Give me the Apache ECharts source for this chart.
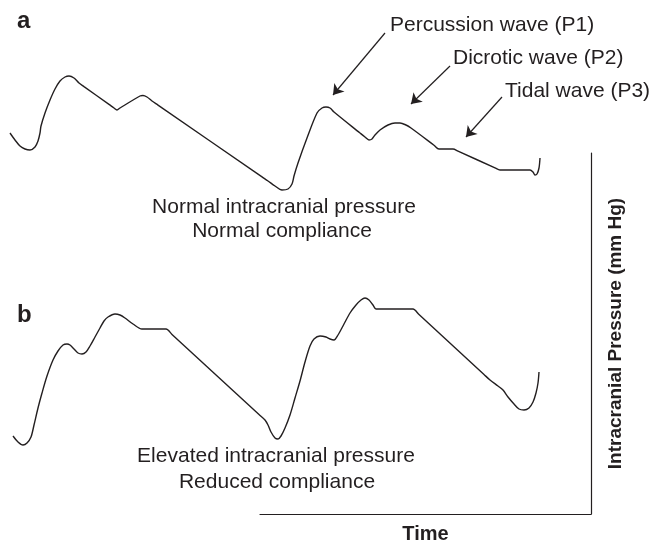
<!DOCTYPE html>
<html>
<head>
<meta charset="utf-8">
<script src="https://cdn.jsdelivr.net/npm/echarts@6/dist/echarts.min.js"></script>
<style>
  html, body { margin: 0; padding: 0; background: #fff; }
  #chart { width: 654px; height: 549px; }
</style>
</head>
<body>
<div id="chart"></div>
<script>
// panel a: normal ICP waveform  [time, pressure] (schematic units)
const timeA = [10, 15, 20, 25, 30, 35, 38, 40, 41, 45, 50, 55, 60, 65, 69, 74, 79, 84, 109, 114, 117, 120, 140, 143, 147, 152, 158, 262, 268, 275, 282, 288, 292, 294, 298, 307, 317, 322, 326, 330, 334, 360, 365, 369, 372, 375, 380, 388, 395, 400, 406, 411, 434, 439, 453, 458, 495, 500, 506, 525, 530, 533, 535, 537, 539, 540];
const pressA = [67, 60, 54, 51, 50, 53, 59, 67, 74, 87, 100, 111, 119, 123, 124, 122, 117, 113.4, 95.6, 92, 90, 92, 104, 104.5, 103, 99, 94.9, 23.1, 19, 14, 10, 11, 16, 24, 37, 62, 87, 92, 93, 92, 88, 67, 63, 60, 61, 65, 70, 75, 77, 77, 75, 72, 54.8, 51, 51, 48.8, 32.2, 30, 30, 30, 30, 28, 25, 26, 32, 42];

// panel b: elevated ICP waveform
const timeB = [13, 18, 23, 27, 31, 34, 38, 42, 47, 53, 58, 63, 67, 70, 74, 78, 82, 86, 90, 95, 100, 104, 108, 115, 120, 125, 133, 142, 166, 172, 259, 265, 268, 271, 275, 278, 281, 285, 290, 295, 300, 305, 310, 314, 320, 326, 330, 334, 338, 344, 350, 356, 361, 365, 369, 373, 376, 381, 408, 413, 419, 484, 490, 498, 503, 508, 514, 519, 524, 529, 533, 536, 538, 539];
const pressB = [14, 8, 5, 7, 13, 25, 42, 57, 74, 90, 99, 105, 106, 105, 101, 97, 96, 98, 104, 113, 122, 129, 133, 136, 135, 132, 126, 121, 121, 115.5, 35.5, 30, 25, 18, 12, 11, 14, 22, 35, 52, 69, 88, 104, 111, 114, 113, 111, 110, 115, 126, 137, 145, 150, 152, 150, 145, 141, 141, 141, 141, 135.5, 75.5, 70, 64, 60, 53, 46, 41, 40, 42, 48, 57, 67, 78];

// annotation arrows on panel a: [fromTime, fromPress, toTime, toPress]
const arrowsA = [
  [385, 167, 333, 105],
  [450, 134, 411, 96],
  [502, 103, 466, 63]
];
const waveLabels = ['Percussion wave (P1)', 'Dicrotic wave (P2)', 'Tidal wave (P3)'];
const panelCaptions = [
  ['Normal intracranial pressure', 'Normal compliance'],
  ['Elevated intracranial pressure', 'Reduced compliance']
];
const axisNames = { x: 'Time', y: 'Intracranial Pressure (mm Hg)' };

const ink = '#231f20';
const font = "'Liberation Sans', Arial, Helvetica, sans-serif";

const zip = (xs, ys) => xs.map((x, i) => [x, ys[i]]);

const hiddenAxis = (gi, min, max) => ({
  gridIndex: gi, type: 'value', min: min, max: max, show: false
});

const chart = echarts.init(document.getElementById('chart'), null, { renderer: 'canvas' });

const option = {
  animation: false,
  backgroundColor: '#fff',
  grid: [
    // frame with the two visible axes
    { left: 260, right: 63, top: 153, bottom: 29 },
    // panel a
    { left: 0, right: 0, top: 0, height: 200 },
    // panel b
    { left: 0, right: 0, top: 280, height: 170 }
  ],
  xAxis: [
    {
      gridIndex: 0, type: 'value', min: 0, max: 1,
      axisLine: { show: true, onZero: false, lineStyle: { color: ink, width: 1.2 } },
      axisTick: { show: false }, axisLabel: { show: false }, splitLine: { show: false },
      name: axisNames.x, nameLocation: 'middle', nameGap: 10,
      nameTextStyle: { color: ink, fontFamily: font, fontWeight: 'bold', fontSize: 20 }
    },
    hiddenAxis(1, 0, 654),
    hiddenAxis(2, 0, 654)
  ],
  yAxis: [
    {
      gridIndex: 0, type: 'value', min: 0, max: 1, position: 'right',
      axisLine: { show: true, onZero: false, lineStyle: { color: ink, width: 1.2 } },
      axisTick: { show: false }, axisLabel: { show: false }, splitLine: { show: false },
      name: axisNames.y, nameLocation: 'middle', nameGap: 15, nameRotate: 90,
      nameTextStyle: { color: ink, fontFamily: font, fontWeight: 'bold', fontSize: 19 }
    },
    hiddenAxis(1, 0, 200),
    hiddenAxis(2, 0, 170)
  ],
  series: [
    {
      type: 'line', xAxisIndex: 1, yAxisIndex: 1,
      data: zip(timeA, pressA), smooth: 0.3, showSymbol: false, silent: true,
      lineStyle: { color: ink, width: 1.4 }
    },
    {
      type: 'line', xAxisIndex: 2, yAxisIndex: 2,
      data: zip(timeB, pressB), smooth: 0.3, showSymbol: false, silent: true,
      lineStyle: { color: ink, width: 1.4 }
    },
    {
      type: 'lines', coordinateSystem: 'cartesian2d', xAxisIndex: 1, yAxisIndex: 1,
      clip: false, silent: true,
      symbol: ['none', 'arrow'], symbolSize: 10,
      lineStyle: { color: ink, width: 1.2, opacity: 1 },
      data: arrowsA.map(a => ({ coords: [[a[0], a[1]], [a[2], a[3]]] }))
    }
  ],
  graphic: [
    { type: 'text', left: 17, top: 9, style: { text: 'a', fill: ink, font: 'bold 24px ' + font } },
    { type: 'text', left: 17, top: 303, style: { text: 'b', fill: ink, font: 'bold 24px ' + font } },
    { type: 'text', x: 390, y: 25, style: { text: waveLabels[0], fill: ink, font: '21px ' + font, verticalAlign: 'middle' } },
    { type: 'text', x: 453, y: 58, style: { text: waveLabels[1], fill: ink, font: '21px ' + font, verticalAlign: 'middle' } },
    { type: 'text', x: 505, y: 91, style: { text: waveLabels[2], fill: ink, font: '21px ' + font, verticalAlign: 'middle' } },
    { type: 'text', x: 284, y: 207, style: { text: panelCaptions[0][0], fill: ink, font: '21px ' + font, align: 'center', verticalAlign: 'middle' } },
    { type: 'text', x: 282, y: 231, style: { text: panelCaptions[0][1], fill: ink, font: '21px ' + font, align: 'center', verticalAlign: 'middle' } },
    { type: 'text', x: 276, y: 456, style: { text: panelCaptions[1][0], fill: ink, font: '21px ' + font, align: 'center', verticalAlign: 'middle' } },
    { type: 'text', x: 277, y: 482, style: { text: panelCaptions[1][1], fill: ink, font: '21px ' + font, align: 'center', verticalAlign: 'middle' } }
  ]
};

chart.setOption(option);
</script>
</body>
</html>
